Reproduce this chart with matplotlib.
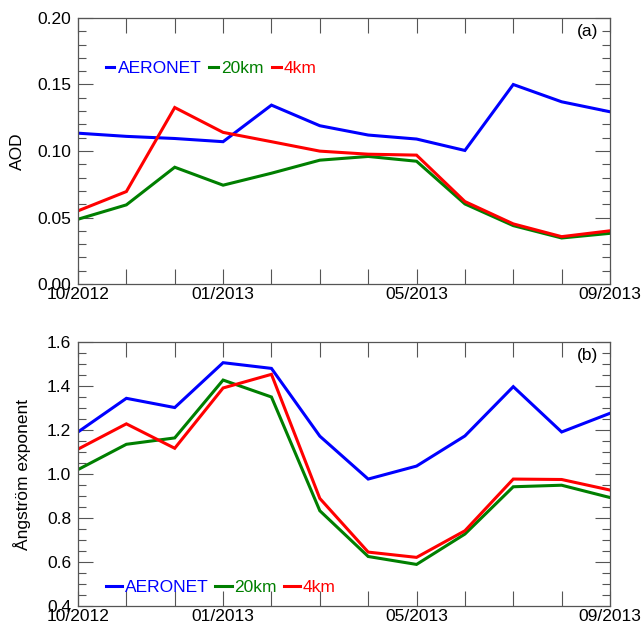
import matplotlib
matplotlib.use('Agg')
import matplotlib.pyplot as plt
from matplotlib.ticker import MultipleLocator, FixedLocator
import numpy as np

plt.rcParams['font.family'] = ['Liberation Sans', 'DejaVu Sans']
FNT = 12.5

months = ['10/2012', '11/2012', '12/2012', '01/2013', '02/2013', '03/2013',
          '04/2013', '05/2013', '06/2013', '07/2013', '08/2013', '09/2013']
shown = ['10/2012', '01/2013', '05/2013', '09/2013']

aod_aeronet = [0.1134, 0.111, 0.1094, 0.107, 0.1345, 0.119, 0.112, 0.109, 0.1004, 0.150, 0.137, 0.1295]
aod_20km = [0.0487, 0.0595, 0.0878, 0.0743, 0.0833, 0.0931, 0.0959, 0.0923, 0.0602, 0.0439, 0.0346, 0.0381]
aod_4km = [0.055, 0.0695, 0.1327, 0.114, 0.107, 0.0999, 0.0976, 0.0969, 0.062, 0.0452, 0.0356, 0.040]

ae_aeronet = [1.191, 1.344, 1.302, 1.506, 1.480, 1.172, 0.977, 1.036, 1.173, 1.397, 1.191, 1.276]
ae_20km = [1.020, 1.135, 1.164, 1.427, 1.350, 0.833, 0.625, 0.589, 0.727, 0.942, 0.949, 0.893]
ae_4km = [1.113, 1.228, 1.117, 1.391, 1.453, 0.889, 0.645, 0.621, 0.742, 0.977, 0.975, 0.927]

names = ['AERONET', '20km', '4km']
colors = ['#0000ff', '#007f00', '#ff0000']

W, H = 641, 625
fig = plt.figure(figsize=(W/100, H/100), dpi=100)

def box(l, t, r, b):
    return [l/W, 1-b/H, (r-l)/W, (b-t)/H]

ax1 = fig.add_axes(box(78, 18, 610, 284))
ax2 = fig.add_axes(box(78, 342, 610, 606))
x = np.arange(len(months))
spine_col = '#555555'

def style(ax, ylo, yhi, major, minor, fmt):
    ax.set_xlim(0, len(months)-1)
    ax.set_ylim(ylo, yhi)
    ax.xaxis.set_major_locator(FixedLocator(x))
    ax.set_xticklabels([m if m in shown else '' for m in months])
    ax.yaxis.set_major_locator(MultipleLocator(major))
    ax.yaxis.set_minor_locator(MultipleLocator(minor))
    ax.yaxis.set_major_formatter(matplotlib.ticker.FormatStrFormatter(fmt))
    ax.tick_params(axis='both', which='major', direction='in', length=10.5, width=0.8,
                   color=spine_col, labelsize=FNT, top=True, right=True)
    ax.tick_params(axis='y', which='minor', direction='in', length=5.5, width=0.8,
                   color=spine_col, right=True)
    ax.tick_params(axis='y', which='major', pad=5)
    ax.tick_params(axis='x', which='major', pad=2)
    for s in ax.spines.values():
        s.set_color(spine_col)
        s.set_linewidth(0.9)

# panel (a)
for ser, c, n in zip([aod_aeronet, aod_20km, aod_4km], colors, names):
    ax1.plot(x, ser, color=c, lw=2.2, label=n, solid_joinstyle='miter')
style(ax1, 0, 0.2, 0.05, 0.01, '%.2f')
ax1.set_ylabel('AOD', fontsize=FNT)
ax1.yaxis.set_label_coords(-0.1, 0.5)
ax1.text(0.978, 0.948, '(a)', transform=ax1.transAxes, ha='right', va='center', fontsize=FNT)
ax1.legend(loc='center left', bbox_to_anchor=(0.052, 0.812), ncol=3, frameon=False,
           fontsize=FNT, handlelength=0.5, handletextpad=0.2, columnspacing=0.45,
           borderpad=0, borderaxespad=0, labelcolor='linecolor')

# panel (b)
for ser, c, n in zip([ae_aeronet, ae_20km, ae_4km], colors, names):
    ax2.plot(x, ser, color=c, lw=2.2, label=n, solid_joinstyle='miter')
style(ax2, 0.4, 1.6, 0.2, 0.05, '%.1f')
ax2.set_ylabel('Ångström exponent', fontsize=FNT)
ax2.yaxis.set_label_coords(-0.088, 0.5)
ax2.text(0.978, 0.948, '(b)', transform=ax2.transAxes, ha='right', va='center', fontsize=FNT)
ax2.legend(loc='center left', bbox_to_anchor=(0.052, 0.07), ncol=3, frameon=False,
           fontsize=FNT, handlelength=0.95, handletextpad=0.15, columnspacing=0.4,
           borderpad=0, borderaxespad=0, labelcolor='linecolor')

fig.savefig('out.png', dpi=100)
